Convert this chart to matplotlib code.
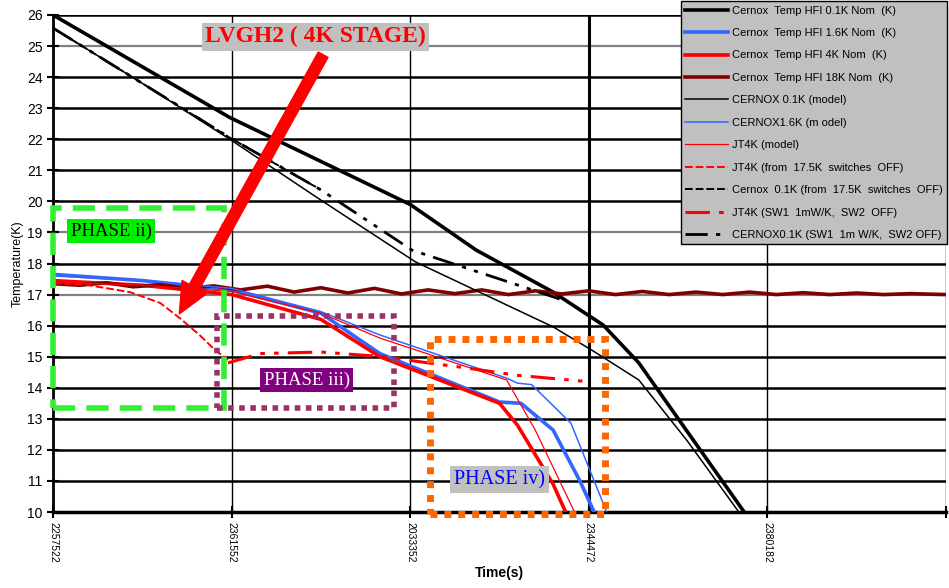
import matplotlib
matplotlib.use("Agg")
import matplotlib.pyplot as plt
from matplotlib.patches import Rectangle, FancyArrowPatch

plt.rcParams['font.family'] = ['Liberation Sans', 'DejaVu Sans']

# ---- data (x in tick units, y in K) ----
x_ticks = [0, 1, 2, 3, 4, 5]
x_ticklabels = ["2257522", "2361552", "2033352", "2344472", "2380182", ""]
y_ticks = list(range(10, 27))

# Cernox Temp HFI 0.1K Nom
nom01_x = [0, 0.99, 2.0, 2.37, 2.8, 3.08, 3.28, 3.55, 3.87]
nom01_y = [26.0, 22.7, 19.9, 18.43, 17.08, 16.02, 14.8, 12.6, 10.0]
# Cernox Temp HFI 1.6K Nom
nom16_x = [0, 0.5, 1.0, 1.5, 1.83, 2.5, 2.62, 2.8, 2.95, 3.03]
nom16_y = [17.65, 17.45, 17.15, 16.4, 15.1, 13.54, 13.5, 12.64, 11.0, 10.0]
# Cernox Temp HFI 4K Nom
nom4_x = [0, 0.5, 1.0, 1.5, 1.83, 2.5, 2.6, 2.8, 2.87]
nom4_y = [17.45, 17.3, 17.0, 16.2, 15.0, 13.5, 12.8, 10.9, 10.0]
# Cernox Temp HFI 18K Nom
nom18_x = [0, 0.15, 0.3, 0.45, 0.6, 0.75, 0.9, 1.05, 1.2, 1.35, 1.5, 1.65,
           1.8, 1.95, 2.1, 2.25, 2.4, 2.55, 2.7, 2.85, 3.0, 3.15, 3.3, 3.45,
           3.6, 3.75, 3.9, 4.05, 4.2, 4.35, 4.5, 4.65, 4.8, 5.0]
nom18_y = [17.35, 17.3, 17.38, 17.25, 17.32, 17.2, 17.28, 17.15, 17.27, 17.08,
           17.22, 17.05, 17.2, 17.02, 17.15, 17.03, 17.15, 17.0, 17.12, 17.02,
           17.12, 17.0, 17.1, 17.0, 17.08, 17.0, 17.08, 17.0, 17.06, 17.0,
           17.05, 17.0, 17.03, 17.0]
# CERNOX 0.1K (model)
mod01_x = [0, 0.5, 0.99, 1.5, 2.03, 2.8, 3.02, 3.28, 3.55, 3.84]
mod01_y = [25.58, 23.8, 22.0, 20.04, 18.05, 15.96, 15.2, 14.25, 12.3, 10.0]
# CERNOX1.6K (model)
mod16_x = [0, 0.5, 1.0, 1.5, 1.83, 2.54, 2.6, 2.68, 2.9, 3.1]
mod16_y = [17.6, 17.45, 17.2, 16.45, 15.7, 14.31, 14.15, 14.1, 12.86, 10.0]
# JT4K (model)
jt4_x = [0, 0.5, 1.0, 1.5, 1.83, 2.54, 2.7, 2.92]
jt4_y = [17.4, 17.3, 17.1, 16.4, 15.6, 14.25, 12.64, 10.0]
# JT4K (from 17.5K switches OFF)
jt4off_x = [0, 0.2, 0.43, 0.6, 0.71, 0.82, 0.91, 0.98]
jt4off_y = [17.37, 17.3, 17.08, 16.73, 16.24, 15.7, 15.2, 14.9]
# Cernox 0.1K (from 17.5K switches OFF)
cx01off_x = [0, 0.5, 0.99, 1.5]
cx01off_y = [25.58, 23.8, 22.05, 20.37]
# JT4K (SW1 1mW/K, SW2 OFF)
jt4sw_x = [0.98, 1.16, 1.5, 1.85, 2.1, 2.3, 2.6, 2.99]
jt4sw_y = [14.8, 15.1, 15.15, 15.0, 14.8, 14.65, 14.4, 14.2]
# CERNOX0.1K (SW1 1mW/K, SW2 OFF)
cx01sw_x = [0, 0.5, 0.99, 1.5, 2.01, 2.5, 2.82, 2.88]
cx01sw_y = [25.58, 23.8, 22.05, 20.37, 18.43, 17.5, 16.89, 16.76]

fig = plt.figure(figsize=(9.49, 5.88), dpi=100)
ax = fig.add_axes([53 / 949, 76 / 588, 893 / 949, 497 / 588])

# grid lines
gray_rows = [17, 19, 25]
for yv in y_ticks:
    if yv in gray_rows:
        ax.axhline(yv, color='#808080', lw=1.6, zorder=1)
    else:
        ax.axhline(yv, color='black', lw=1.8, zorder=1)
for xv in x_ticks[1:]:
    ax.axvline(xv, color='black', lw=2.2 if xv == 3 else 1.0, zorder=1)

ax.plot(nom01_x, nom01_y, color='black', lw=2.6, label='Cernox  Temp HFI 0.1K Nom  (K)', zorder=3)
ax.plot(nom16_x, nom16_y, color='#3366ff', lw=2.6, label='Cernox  Temp HFI 1.6K Nom  (K)', zorder=3)
ax.plot(nom4_x, nom4_y, color='red', lw=2.6, label='Cernox  Temp HFI 4K Nom  (K)', zorder=3)
ax.plot(nom18_x, nom18_y, color='#800000', lw=2.6, label='Cernox  Temp HFI 18K Nom  (K)', zorder=3)
ax.plot(mod01_x, mod01_y, color='black', lw=1.1, label='CERNOX 0.1K (model)', zorder=3)
ax.plot(mod16_x, mod16_y, color='#3366ff', lw=1.1, label='CERNOX1.6K (m odel)', zorder=3)
ax.plot(jt4_x, jt4_y, color='red', lw=0.9, label='JT4K (model)', zorder=3)
ax.plot(jt4off_x, jt4off_y, color='red', lw=1.4, ls=(0, (4, 1.5)), label='JT4K (from  17.5K  switches  OFF)', zorder=3)
ax.plot(cx01off_x, cx01off_y, color='black', lw=1.4, ls=(0, (4, 1.5)), label='Cernox  0.1K (from  17.5K  switches  OFF)', zorder=3)
ax.plot(jt4sw_x, jt4sw_y, color='red', lw=2.2, ls=(0, (8, 3, 1.5, 3, 1.5, 3)), label='JT4K (SW1  1mW/K,  SW2  OFF)', zorder=3)
ax.plot(cx01sw_x, cx01sw_y, color='black', lw=2.0, ls=(0, (8, 3, 1.5, 3, 1.5, 3)), label='CERNOX0.1K (SW1  1m W/K,  SW2 OFF)', zorder=3)

ax.set_xlim(0, 5)
ax.set_ylim(10, 26)
ax.set_yticks(y_ticks)
ax.set_yticklabels([str(v) for v in y_ticks], fontsize=10)
ax.set_xticks(x_ticks)
ax.set_xticklabels(x_ticklabels, rotation=270, fontsize=7.5)
ax.tick_params(axis='both', direction='inout', length=8, width=1.5)
for side in ['top', 'right']:
    ax.spines[side].set_visible(False)
ax.spines['left'].set_linewidth(2)
ax.spines['bottom'].set_linewidth(2.5)
ax.set_ylabel('Temperature(K)', fontsize=9, labelpad=2)
ax.set_xlabel('Time(s)', fontsize=10, fontweight='bold', labelpad=2)

# phase boxes
ax.add_patch(Rectangle((0.0, 13.35), 0.96, 6.45, fill=False, ec='#33ee33',
                       lw=4, ls=(0, (4, 2)), zorder=5, clip_on=False))
ax.add_patch(Rectangle((0.92, 13.35), 0.99, 2.95, fill=False, ec='#993366',
                       lw=4, ls=(0, (1, 1)), zorder=5))
ax.add_patch(Rectangle((2.11, 9.95), 0.98, 5.62, fill=False, ec='#ff6600',
                       lw=5, ls=(0, (1, 1)), zorder=5, clip_on=False))

serif = ['Liberation Serif', 'DejaVu Serif']
ax.text(0.1, 18.9, 'PHASE ii)', family=serif, fontsize=13.5, color='black',
        bbox=dict(boxstyle='square,pad=0.2', fc='#00ee00', ec='none'), zorder=6)
ax.text(1.42, 14.25, 'PHASE iii)', family=serif, fontsize=13.5, color='white',
        ha='center', va='center',
        bbox=dict(boxstyle='square,pad=0.2', fc='#800080', ec='none'), zorder=6)
ax.text(2.5, 11.05, 'PHASE iv)', family=serif, fontsize=14.5, color='#0000ff',
        ha='center', va='center',
        bbox=dict(boxstyle='square,pad=0.2', fc='#c0c0c0', ec='none'), zorder=6)
ax.text(1.47, 25.3, 'LVGH2 ( 4K STAGE)', family=serif, fontsize=17, color='red',
        fontweight='bold', ha='center', va='center',
        bbox=dict(boxstyle='square,pad=0.15', fc='#c0c0c0', ec='none'), zorder=6)

ax.add_patch(FancyArrowPatch((1.52, 24.8), (0.7, 16.3),
                             arrowstyle='simple,head_width=2.0,head_length=2.2,tail_width=0.8',
                             mutation_scale=10, color='red', zorder=6))

leg = fig.legend(loc='upper right', bbox_to_anchor=(0.999, 1.0), fontsize=8,
                 labelspacing=1.12, handlelength=3.9, handletextpad=0.3,
                 borderaxespad=0.1, fancybox=False, framealpha=1)
leg.get_frame().set_facecolor('#c0c0c0')
leg.get_frame().set_edgecolor('black')
leg.get_frame().set_linewidth(1.0)

fig.savefig('out.png', dpi=100)
